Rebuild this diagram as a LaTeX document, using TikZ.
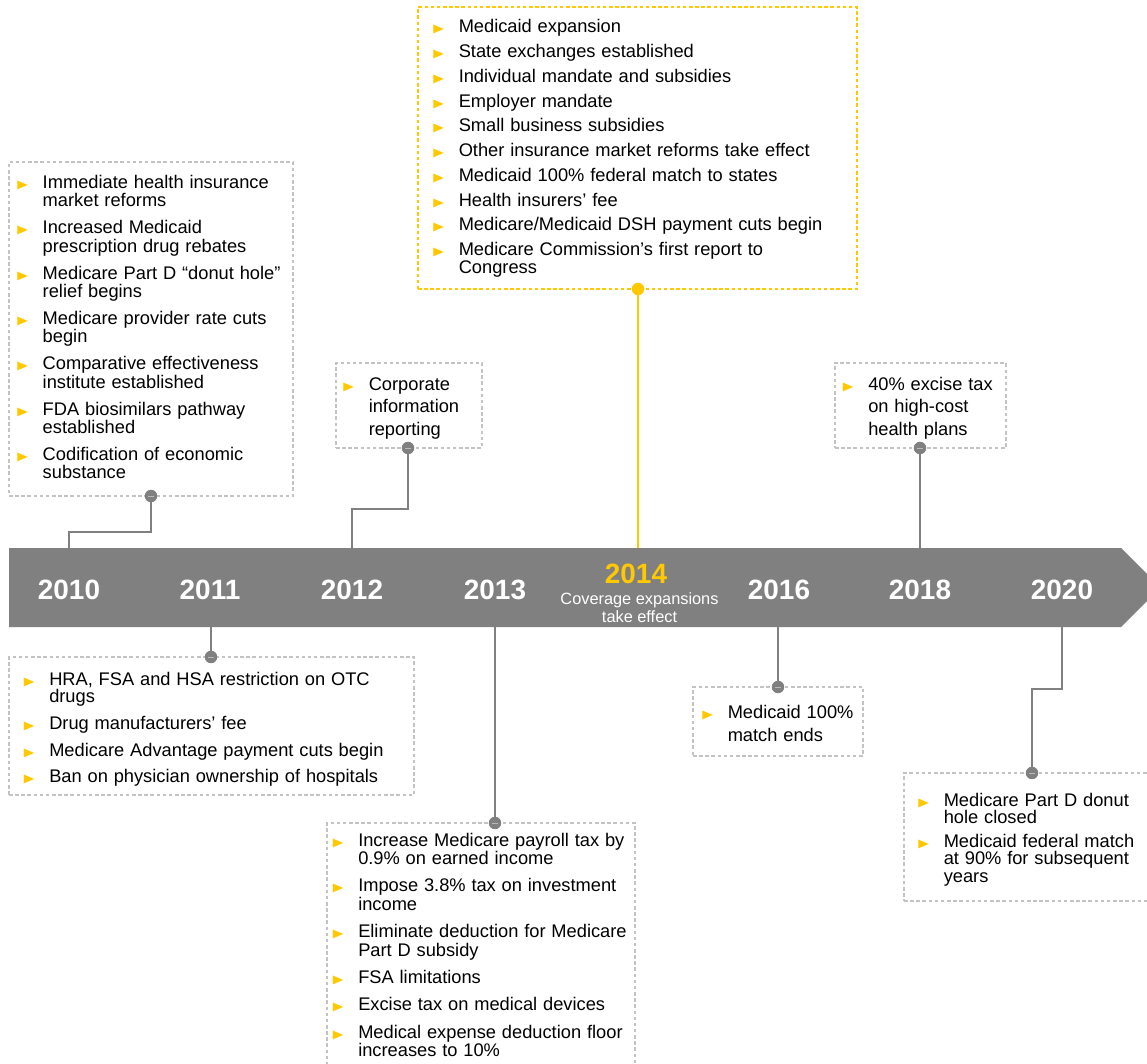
\documentclass[tikz,border=0pt]{standalone}
\usepackage{fontspec}
\setmainfont{Liberation Sans}
\newfontfamily\symfont{DejaVu Sans}
\usetikzlibrary{positioning, fit, calc}
\definecolor{bandgris}{RGB}{128,128,128}
\definecolor{amarillo}{RGB}{255,200,0}
\definecolor{cajagris}{RGB}{195,195,195}
\newdimen\pxu \pxu=0.5669pt
\setlength{\parskip}{0pt}
\newcommand{\evbul}{\textcolor{amarillo}{\resizebox*{10.6\pxu}{9\pxu}{\symfont ▶}}}
\newenvironment{evlist}[2]{%
	\fontsize{10.4}{#1}\selectfont
	\begin{list}{\evbul}{\setlength{\leftmargin}{25.5\pxu}\setlength{\labelwidth}{12\pxu}\setlength{\labelsep}{13.5\pxu}%
		\setlength{\itemsep}{#2}\setlength{\parsep}{0pt}\setlength{\topsep}{0pt}\setlength{\partopsep}{0pt}%
		\setlength{\itemindent}{0pt}\renewcommand{\makelabel}[1]{##1\hfil}}}
	{\end{list}}
\tikzset{evbox/.style={draw=cajagris, dash pattern=on 2pt off 1.5pt, line width=0.6pt, inner sep=0pt},
	evtext/.style={anchor=north west, inner sep=0pt, text width=11cm},
	year/.style={text=white, font=\fontsize{15.9}{15.9}\selectfont\bfseries, inner sep=0pt},
	conn/.style={draw=bandgris, line width=1.1pt},
	dot/.style={circle, fill=bandgris, inner sep=0pt, minimum size=12.5\pxu,
		path picture={\draw [bandgris!55!white, line width=0.5pt] ([xshift=-1.6pt]path picture bounding box.center) -- ([xshift=1.6pt]path picture bounding box.center);}}}

\begin{document}
\begin{tikzpicture}[x=0.02cm, y=-0.02cm]
			\useasboundingbox (0,0) rectangle (1147,1064);
			\clip (0,0) rectangle (1147,1064);
			
			\fill [bandgris] (9,548) -- (1121,548) -- (1160.5,587.5) -- (1121,627) -- (9,627) -- cycle;
			\coordinate (topN) at (0,548);
			\coordinate (botN) at (0,627);
			
			\node [year] (y2010) at (69,590) {2010};
			\node [year] (y2011) at (210,590) {2011};
			\node [year] (y2012) at (352,590) {2012};
			\node [year] (y2013) at (495,590) {2013};
			\node [year, text=amarillo] (y2014) at (636,574) {2014};
			\node [text=white, font=\fontsize{9.3}{10.2}\selectfont, align=center, inner sep=0pt, below=4.5pt of y2014, xshift=2pt] (s2014) {Coverage expansions\\take effect};
			\node [year] (y2016) at (779,590) {2016};
			\node [year] (y2018) at (920,590) {2018};
			\node [year] (y2020) at (1062,590) {2020};
			
			\node [evbox, fit={(9,162) (293,496)}] (c2010) {};
			\node [evbox, fit={(9,657) (414,795)}] (c2011) {};
			\node [evbox, fit={(336,363) (482,448)}] (c2012) {};
			\node [evbox, fit={(327,823) (635,1075)}] (c2013) {};
			\node [evbox, draw=amarillo, fit={(418,7) (857,289)}] (c2014) {};
			\node [evbox, fit={(693,687) (863,756)}] (c2016) {};
			\node [evbox, fit={(835,363) (1006,448)}] (c2018) {};
			\node [evbox, fit={(904,773) (1155,901)}] (c2020) {};
			
			\coordinate (d2010) at (151,496);
			\coordinate (d2011) at (211,657);
			\coordinate (d2012) at (408,448);
			\coordinate (d2013) at (495,823);
			\coordinate (d2014) at (638,289);
			\coordinate (d2016) at (778,687);
			\coordinate (d2018) at (920,448);
			\coordinate (d2020) at (1032,773);
			
			\draw [conn] (d2010) -- (151,532) -| (y2010 |- topN);
			\draw [conn] (d2011 |- botN) -- (d2011);
			\draw [conn] (d2012) -- (408,509) -| (y2012 |- topN);
			\draw [conn] (d2013 |- botN) -- (d2013);
			\draw [conn, draw=amarillo] (d2014 |- topN) -- (d2014);
			\draw [conn] (d2016 |- botN) -- (d2016);
			\draw [conn] (d2018) -- (d2018 |- topN);
			\draw [conn] (y2020 |- botN) -- (1062,689) -| (d2020);
			
			\node [dot] at (d2010) {};
			\node [dot] at (d2011) {};
			\node [dot] at (d2012) {};
			\node [dot] at (d2013) {};
			\node [dot, fill=amarillo, path picture={}] at (d2014) {};
			\node [dot] at (d2016) {};
			\node [dot] at (d2018) {};
			\node [dot] at (d2020) {};
			
			\node [evtext] (t2010) at (17,169.9) {\begin{evlist}{10.4pt}{5pt}
				\item Immediate health insurance\\market reforms
				\item Increased Medicaid\\prescription drug rebates
				\item Medicare Part D “donut hole”\\relief begins
				\item Medicare provider rate cuts\\begin
				\item Comparative effectiveness\\institute established
				\item FDA biosimilars pathway\\established
				\item Codification of economic\\substance
			\end{evlist}};
			\node [evtext] (t2011) at (23.5,667.2) {\begin{evlist}{10pt}{5.2pt}
				\item HRA, FSA and HSA restriction on OTC\\drugs
				\item Drug manufacturers’ fee
				\item Medicare Advantage payment cuts begin
				\item Ban on physician ownership of hospitals
			\end{evlist}};
			\node [evtext] (t2012) at (343,367) {\begin{evlist}{12.9pt}{0pt}
				\item Corporate\\information\\reporting
			\end{evlist}};
			\node [evtext] (t2013) at (332.5,827.1) {\begin{evlist}{10.6pt}{4.9pt}
				\item Increase Medicare payroll tax by\\0.9\% on earned income
				\item Impose 3.8\% tax on investment\\income
				\item Eliminate deduction for Medicare\\Part D subsidy
				\item FSA limitations
				\item Excise tax on medical devices
				\item Medical expense deduction floor\\increases to 10\%
			\end{evlist}};
			\node [evtext] (t2014) at (433,14.5) {\begin{evlist}{10.2pt}{3.9pt}
				\item Medicaid expansion
				\item State exchanges established
				\item Individual mandate and subsidies
				\item Employer mandate
				\item Small business subsidies
				\item Other insurance market reforms take effect
				\item Medicaid 100\% federal match to states
				\item Health insurers’ fee
				\item Medicare/Medicaid DSH payment cuts begin
				\item Medicare Commission’s first report to\\Congress
			\end{evlist}};
			\node [evtext] (t2016) at (702,695.4) {\begin{evlist}{12.9pt}{0pt}
				\item Medicaid 100\%\\match ends
			\end{evlist}};
			\node [evtext] (t2018) at (842.5,367) {\begin{evlist}{12.9pt}{0pt}
				\item 40\% excise tax\\on high-cost\\health plans
			\end{evlist}};
			\node [evtext] (t2020) at (918,788.3) {\begin{evlist}{9.9pt}{3.8pt}
				\item Medicare Part D donut\\hole closed
				\item Medicaid federal match\\at 90\% for subsequent\\years
			\end{evlist}};
	\end{tikzpicture}
\end{document}
